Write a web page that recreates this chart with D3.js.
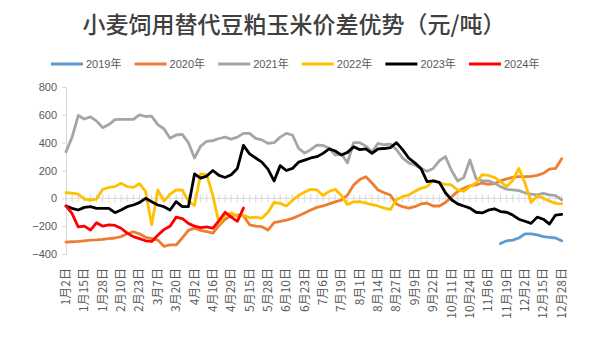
<!DOCTYPE html>
<html><head><meta charset="utf-8">
<script src="https://cdn.jsdelivr.net/npm/d3@7"></script>
<style>html,body{margin:0;padding:0;background:#fff;}svg{display:block;}</style>
</head><body>
<svg id="chart" width="595" height="355"></svg>
<script>
const title = "小麦饲用替代豆粕玉米价差优势（元/吨）";
const dateLabels = ["1月2日","1月15日","1月28日","2月10日","2月23日","3月7日","3月20日","4月2日","4月16日","4月29日","5月15日","5月28日","6月10日","6月23日","7月6日","7月19日","8月1日","8月14日","8月27日","9月9日","9月22日","10月11日","10月24日","11月6日","11月19日","12月2日","12月15日","12月28日"];
const yTicks = [-400,-200,0,200,400,600,800];
const seriesNames = ["2019年","2020年","2021年","2022年","2023年","2024年"];
const seriesColors = ["#5b9bd5","#ed7d31","#a5a5a5","#ffc000","#000000","#ff0000"];
// values sampled at 3 points per labelled interval (82 points for a full year)
const v2019 = [null,null,null,null,null,null,null,null,null,null,null,null,null,null,null,null,null,null,null,null,
  null,null,null,null,null,null,null,null,null,null,null,null,null,null,null,null,null,null,null,null,
  null,null,null,null,null,null,null,null,null,null,null,null,null,null,null,null,null,null,null,null,
  null,null,null,null,null,null,null,null,null,null,null,
  -325,-305,-300,-285,-255,-255,-262,-275,-280,-285,-305];
const v2020 = [-315,-312,-310,-305,-300,-298,-295,-290,-285,-275,-255,-240,-255,-280,-290,-300,-345,-335,-335,-285,
  -230,-215,-230,-240,-250,-195,-150,-125,-120,-125,-190,-200,-204,-228,-175,-165,-156,-144,-125,-105,
  -84,-65,-55,-40,-25,-12,24,95,135,155,110,60,40,24,-40,-60,-70,-60,-40,-35,
  -55,-55,-30,10,50,72,90,96,110,100,105,125,140,150,156,156,158,165,180,210,215,285];
const v2021 = [335,440,595,570,586,555,508,530,565,567,567,567,600,588,590,530,500,431,455,460,
  400,290,375,410,415,430,440,425,440,467,467,431,420,395,400,440,467,455,360,325,
  350,383,380,360,311,320,255,400,400,375,335,395,385,390,350,290,255,240,215,195,
  215,270,300,200,125,150,275,143,125,125,110,84,65,60,55,40,30,25,36,25,20,-10];
const v2022 = [40,38,30,-5,-12,-5,65,78,84,108,84,79,105,50,-190,60,-20,30,60,60,
  -20,-50,175,170,20,-180,-120,-105,-130,-120,-140,-135,-144,-100,-30,-36,-55,-15,20,45,
  65,60,20,50,65,20,-45,-25,-24,-35,-45,-55,-70,-80,-10,12,24,50,72,84,
  130,110,100,96,60,50,84,110,170,165,150,120,84,130,215,110,-30,20,0,-20,-36,-40];
const v2023 = [-55,-72,-84,-65,-60,-72,-72,-72,-103,-84,-60,-48,-31,0,-24,-48,-60,-84,-24,-60,
  -60,175,145,160,200,165,150,170,215,380,320,290,260,210,125,235,200,215,260,275,
  290,299,323,355,340,311,330,370,350,355,323,355,358,365,400,350,290,255,215,120,
  125,115,40,-10,-40,-55,-70,-100,-105,-85,-75,-95,-100,-120,-150,-165,-180,-135,-150,-185,-120,-115];
const v2024 = [-55,-110,-205,-200,-228,-175,-200,-190,-195,-215,-250,-275,-290,-305,-310,-265,-225,-200,-135,-145,
  -180,-200,-210,-205,-215,-160,-100,-135,-165,-70];
const seriesValues = [v2019,v2020,v2021,v2022,v2023,v2024];

const svg = d3.select("#chart");
const nPoints = 82;
const x = d3.scaleLinear().domain([0, nPoints - 1]).range([66, 561.7]);
const y = d3.scaleLinear().domain([-400, 800]).range([254, 87]);

// title
svg.append("text").attr("x", 294).attr("y", 33).attr("text-anchor", "middle")
  .attr("font-family", "'Noto Sans CJK SC', sans-serif").attr("font-size", 23)
  .attr("font-weight", 500).attr("fill", "#404040").text(title);

// legend
const legend = svg.append("g").attr("font-family", "'Liberation Sans','Noto Sans CJK SC', sans-serif").attr("font-size", 11);
seriesNames.forEach((name, i) => {
  const lx = 51 + i * 83.6;
  legend.append("line").attr("x1", lx).attr("x2", lx + 32).attr("y1", 64).attr("y2", 64)
    .attr("stroke", seriesColors[i]).attr("stroke-width", 3);
  legend.append("text").attr("x", lx + 35).attr("y", 68).attr("fill", "#595959").text(name);
});

// y axis
const yAxis = svg.append("g").attr("transform", "translate(66,0)")
  .call(d3.axisLeft(y).tickValues(yTicks).tickSize(4).tickPadding(5));
yAxis.select(".domain").attr("stroke", "#d9d9d9");
yAxis.selectAll(".tick line").attr("stroke", "#d9d9d9");
yAxis.selectAll("text").attr("fill", "#595959").attr("font-size", 11)
  .attr("font-family", "'Liberation Sans', Arial, sans-serif");

// x axis at zero with crossing tick marks
const y0 = y(0);
svg.append("line").attr("x1", x(0)).attr("x2", x(nPoints - 1)).attr("y1", y0).attr("y2", y0)
  .attr("stroke", "#d9d9d9").attr("stroke-width", 1);
svg.append("g").selectAll("line").data(d3.range(nPoints)).join("line")
  .attr("x1", d => x(d)).attr("x2", d => x(d)).attr("y1", y0 - 4).attr("y2", y0 + 4)
  .attr("stroke", "#d9d9d9").attr("stroke-width", 1);

// x labels at bottom, rotated
svg.append("g").selectAll("text").data(dateLabels).join("text")
  .attr("transform", (d, i) => `translate(${x(i * 3) + 4},268) rotate(-90)`)
  .attr("text-anchor", "end")
  .attr("font-family", "'Noto Sans CJK SC', sans-serif").attr("font-size", 12)
  .attr("fill", "#595959").text(d => d);

// lines
const line = d3.line().defined(d => d != null).x((d, i) => x(i)).y(d => y(d));
seriesValues.forEach((vals, k) => {
  svg.append("path").datum(vals).attr("d", line).attr("fill", "none")
    .attr("stroke", seriesColors[k]).attr("stroke-width", 2.8)
    .attr("stroke-linejoin", "round").attr("stroke-linecap", "round");
});
</script>
</body></html>
